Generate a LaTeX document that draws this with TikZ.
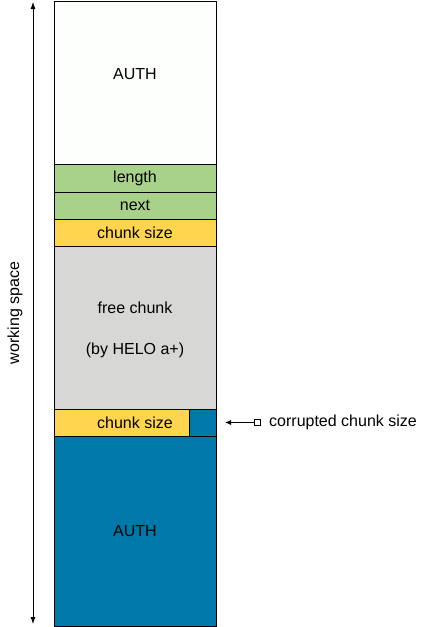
\documentclass[tikz,border=0pt]{standalone}
\usepackage{fontspec}
\setmainfont{Liberation Sans}
\usetikzlibrary{arrows.meta}
\definecolor{cwhite}{HTML}{FDFFFD}
\definecolor{cgreen}{HTML}{A8D18A}
\definecolor{cyellow}{HTML}{FFD44F}
\definecolor{cgray}{HTML}{D7D8D5}
\definecolor{cblue}{HTML}{0078AA}
\begin{document}
\begin{tikzpicture}[x=1pt,y=-1pt,
  blk/.style={draw=black,line width=0.8pt},
  lbl/.style={font=\fontsize{16}{19}\selectfont,text=black},
  every node/.style={inner sep=0pt}]
\useasboundingbox (0,0) rectangle (425,627);
% blocks
\filldraw[blk,fill=cwhite] (54,1) rectangle (216,164);
\filldraw[blk,fill=cgreen] (54,164) rectangle (216,192);
\filldraw[blk,fill=cgreen] (54,192) rectangle (216,219);
\filldraw[blk,fill=cyellow] (54,219) rectangle (216,246);
\filldraw[blk,fill=cgray] (54,246) rectangle (216,409);
\filldraw[blk,fill=cblue] (189,409) rectangle (216,436);
\filldraw[blk,fill=cyellow] (54,409) rectangle (189,436);
\filldraw[blk,fill=cblue] (54,436) rectangle (216,626);
% labels
\node[lbl] (auth1) at (135,74) {AUTH};
\node[lbl] (len) at (135,178) {length};
\node[lbl] (nxt) at (135,205.5) {next};
\node[lbl] (cs1) at (135,232.5) {chunk size};
\node[lbl] (free1) at (135,308) {free chunk};
\node[lbl] (free2) at (135,350) {(by HELO a+)};
\node[lbl] (cs2) at (135,422.5) {chunk size};
\node[lbl] (auth2) at (135,531) {AUTH};
% working space
\coordinate (wtop) at (33,2);
\coordinate (wbot) at (33,624);
\draw[line width=0.8pt,{Latex[length=7pt,width=5pt]}-{Latex[length=7pt,width=5pt]}] (wtop) -- (wbot);
\node[lbl,rotate=90] (ws) at (15,313) {working space};
% corrupted label
\node[draw=black,line width=0.8pt,fill=white,minimum size=6pt] (sq) at (257.5,422.5) {};
\coordinate (tip) at (225,422.5);
\draw[line width=0.8pt,-{Latex[length=6pt,width=5pt]}] (sq.west) -- (tip);
\node[lbl,anchor=west] (corr) at (269,422.5) {corrupted chunk size};
\end{tikzpicture}
\end{document}
